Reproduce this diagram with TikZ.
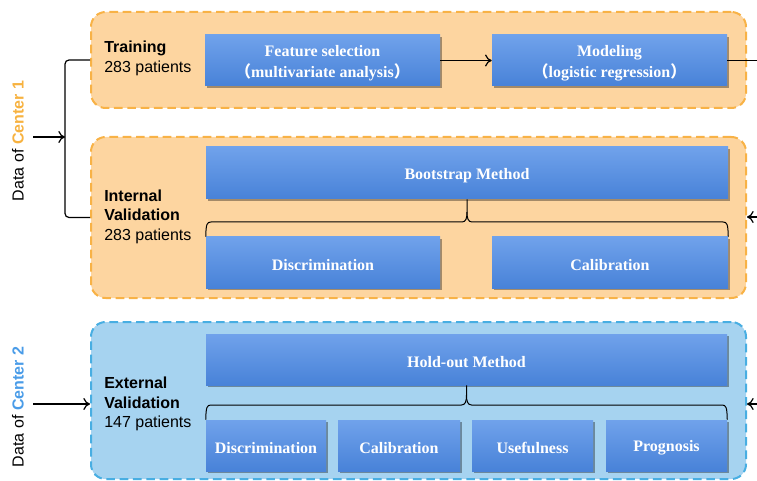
\documentclass[tikz,border=0pt]{standalone}
\usepackage{fontspec}
\setmainfont{Liberation Serif}
\setsansfont{Liberation Sans}
\newfontfamily\cjkfont{Noto Sans CJK SC}
\usetikzlibrary{shadows,arrows.meta,calc}
\definecolor{orfill}{RGB}{253,213,160}
\definecolor{orline}{RGB}{248,178,70}
\definecolor{blfill}{RGB}{166,211,240}
\definecolor{blline}{RGB}{72,174,226}
\definecolor{btop}{RGB}{112,162,235}
\definecolor{bbot}{RGB}{72,130,216}
\definecolor{ctrone}{RGB}{247,178,64}
\definecolor{ctrtwo}{RGB}{74,156,232}
\newcommand{\lpar}{{\cjkfont\smash{（}}}
\newcommand{\rpar}{{\cjkfont\smash{）}}}
\begin{document}
\begin{tikzpicture}[x=0.75pt,y=-0.75pt,
  wd/.style={minimum width={#1*0.75pt}},
  ht/.style={minimum height={#1*0.75pt}},
  grp/.style={line width=1.5pt, dash pattern=on 6.5pt off 3.5pt, rounded corners=11pt, inner sep=0pt, wd=655},
  orgrp/.style={grp, draw=orline, fill=orfill},
  blgrp/.style={grp, draw=blline, fill=blfill},
  bbox/.style={top color=btop, bottom color=bbot, draw=none,
    drop shadow={shadow xshift=1.2pt, shadow yshift=-1.2pt, opacity=0.35, fill=black},
    inner sep=0pt, ht=51},
  btxt/.style={text=white, font=\bfseries\fontsize{12}{16}\selectfont, align=center, inner sep=0pt, yshift=-1.8pt},
  lbl/.style={font=\sffamily\fontsize{12}{14.6}\selectfont, align=left, anchor=west, inner sep=0pt},
  side/.style={font=\sffamily\fontsize{12}{14}\selectfont, rotate=90, inner sep=0pt},
  conn/.style={line width=0.9pt, black},
  brc/.style={line width=0.75pt, black},
  arr/.style={conn, -{To[length=5pt,width=9pt]}}
]
\useasboundingbox (0,0) rectangle (757,481);

% containers
\node[orgrp, ht=96] (train) at (418.5,60) {};
\node[orgrp, ht=161] (intv) at (418.5,217.5) {};
\node[blgrp, ht=157] (extv) at (418.5,400.5) {};

% labels
\node[lbl] (ltrain) at (104,58.5) {\textbf{Training}\\283 patients};
\node[lbl] (lint) at (104,216.5) {\textbf{Internal}\\\textbf{Validation}\\283 patients};
\node[lbl] (lext) at (104,404) {\textbf{External}\\\textbf{Validation}\\147 patients};

% blue boxes
\node[bbox, wd=235, label={[btxt]center:{Feature selection\\\lpar multivariate analysis\rpar}}] (feat) at (322.5,60.5) {};
\node[bbox, wd=235, label={[btxt]center:{Modeling\\\lpar logistic regression\rpar}}] (model) at (609.5,60.5) {};
\node[bbox, wd=522, ht=52, label={[btxt]center:Bootstrap Method}] (boot) at (467,173) {};
\node[bbox, wd=234, label={[btxt]center:Discrimination}] (disca) at (323,262.5) {};
\node[bbox, wd=236, label={[btxt]center:Calibration}] (cala) at (610,262.5) {};
\node[bbox, wd=521, label={[btxt]center:Hold-out Method}] (hold) at (466.5,359.5) {};
\node[bbox, wd=120, label={[btxt]center:Discrimination}] (discb) at (266,445.5) {};
\node[bbox, wd=122, label={[btxt]center:Calibration}] (calb) at (399,445.5) {};
\node[bbox, wd=121, label={[btxt]center:Usefulness}] (useb) at (532.5,445.5) {};
\node[bbox, wd=121, label={[btxt]center:Prognosis}] (progb) at (666.5,445.5) {};

% side texts
\node[side] (dataa) at (18,141) {Data of \textcolor{ctrone}{\bfseries Center 1}};
\node[side] (datab) at (18,407) {Data of \textcolor{ctrtwo}{\bfseries Center 2}};

% left connectors
\coordinate (jn) at (65,137);
\coordinate (ca) at (33,137);
\coordinate (cb) at (33,404);
\draw[conn, rounded corners=3pt] (train.west) -| (jn) |- (intv.west);
\draw[arr] (ca) -- (jn);
\draw[arr] (cb) -- (cb -| extv.west);

% training flow
\draw[arr] (feat) -- (model);
\coordinate (ra) at (757,60.5);
\draw[conn] (model.east) -- (ra);
\coordinate (rb) at (757,217);
\coordinate (rc) at (757,404);
\draw[arr] (rb) -- (rb -| intv.east);
\draw[arr] (rc) -- (rc -| extv.east);

% braces
\draw[brc] (disca.north west) .. controls (206,224) and (207,222) .. (211,222) -- (462,222)
  .. controls (466,222) and (467,218) .. (467,212) -- (boot.south);
\draw[brc] (cala.north east) .. controls (728,224) and (727,222) .. (723,222) -- (472,222)
  .. controls (468,222) and (467,218) .. (467,212);
\draw[brc] (discb.north west) .. controls (206,407) and (207,405) .. (211,405) -- (461.5,405)
  .. controls (465.5,405) and (466.5,401) .. (466.5,395) -- (hold.south);
\draw[brc] (progb.north east) .. controls (727,407) and (726,405) .. (722,405) -- (471.5,405)
  .. controls (467.5,405) and (466.5,401) .. (466.5,395);
\end{tikzpicture}
\end{document}
